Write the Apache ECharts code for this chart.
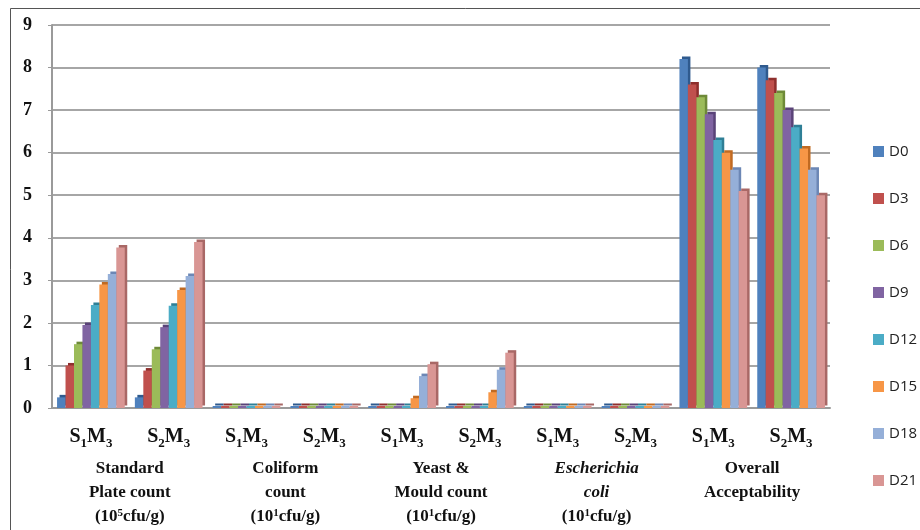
<!DOCTYPE html>
<html>
<head>
<meta charset="utf-8">
<script src="https://cdn.jsdelivr.net/npm/echarts@6/dist/echarts.min.js"></script>
<style>
  html, body { margin: 0; padding: 0; background: #fff; }
  #chart { width: 920px; height: 530px; }
</style>
</head>
<body>
<div id="chart"></div>
<script>
// Treatment codes along the x axis (S = sample, M = method; digits are subscripts)
const categories = ['S1M3', 'S2M3', 'S1M3', 'S2M3', 'S1M3', 'S2M3', 'S1M3', 'S2M3', 'S1M3', 'S2M3'];

// Parameter groups, two treatments each
const groupNames = ['Standard Plate count', 'Coliform count', 'Yeast & Mould count', 'Escherichia coli', 'Overall Acceptability'];

// Storage days
const days = ['D0', 'D3', 'D6', 'D9', 'D12', 'D15', 'D18', 'D21'];

// Values per storage day, one per treatment column
const d0  = [0.25, 0.25, 0, 0, 0,    0,    0, 0, 8.2, 8.0];
const d3  = [1.0,  0.88, 0, 0, 0,    0,    0, 0, 7.6, 7.7];
const d6  = [1.5,  1.38, 0, 0, 0,    0,    0, 0, 7.3, 7.4];
const d9  = [1.95, 1.9,  0, 0, 0,    0,    0, 0, 6.9, 7.0];
const d12 = [2.42, 2.4,  0, 0, 0,    0,    0, 0, 6.3, 6.6];
const d15 = [2.9,  2.77, 0, 0, 0.23, 0.37, 0, 0, 6.0, 6.1];
const d18 = [3.15, 3.1,  0, 0, 0.75, 0.9,  0, 0, 5.6, 5.6];
const d21 = [3.77, 3.9,  0, 0, 1.03, 1.3,  0, 0, 5.1, 5.0];
const seriesValues = [d0, d3, d6, d9, d12, d15, d18, d21];

// Y axis ticks
const yTicks = [0, 1, 2, 3, 4, 5, 6, 7, 8, 9];

const colors = ['#4F81BD', '#C0504D', '#9BBB59', '#8064A2', '#4BACC6', '#F79646', '#95AFD8', '#D99694'];
const sideColors = ['#2F5A8E', '#8E2F2D', '#6E8A38', '#5A4378', '#2F7F96', '#C06A22', '#6C87B5', '#A96866'];

const serif = '"Liberation Serif", "Times New Roman", serif';

function codeLabel(code) {
  // 'S1M3' -> S with subscript 1, M with subscript 3
  return '{b|S}{s|' + code[1] + '}{b|M}{s|' + code[3] + '}';
}

function groupLabel(name) {
  switch (name) {
    case 'Standard Plate count':
      return '{g|Standard}\n{g|Plate count}\n{g|(10}{sup|5}{g|cfu/g)}';
    case 'Coliform count':
      return '{g|Coliform}\n{g|count}\n{g|(10}{sup|1}{g|cfu/g)}';
    case 'Yeast & Mould count':
      return '{g|Yeast &}\n{g|Mould count}\n{g|(10}{sup|1}{g|cfu/g)}';
    case 'Escherichia coli':
      return '{i|Escherichia}\n{i|coli}\n{g|(10}{sup|1}{g|cfu/g)}';
    default:
      return '{g|Overall}\n{g|Acceptability}';
  }
}

const chart = echarts.init(document.getElementById('chart'), null, { renderer: 'canvas' });

const option = {
  animation: false,
  backgroundColor: '#fff',
  graphic: [{
    type: 'rect',
    shape: { x: 10.5, y: 8.5, width: 920, height: 540 },
    style: { fill: 'none', stroke: '#555', lineWidth: 1 },
    silent: true,
    z: -1
  }],
  grid: { left: 52, right: 90, top: 25, bottom: 122 },
  legend: {
    orient: 'vertical',
    left: 868,
    top: 139,
    itemWidth: 11,
    itemHeight: 11,
    itemGap: 32,
    icon: 'rect',
    data: days,
    textStyle: { fontFamily: '"Open Sans", "Liberation Sans", sans-serif', fontSize: 15, color: '#222', padding: [0, 0, 0, 0] }
  },
  xAxis: [{
    type: 'category',
    data: categories,
    position: 'bottom',
    axisLine: { lineStyle: { color: '#9a9a9a', width: 2 } },
    axisTick: { show: false },
    axisLabel: {
      margin: 19,
      interval: 0,
      formatter: codeLabel,
      rich: {
        b: { fontFamily: serif, fontWeight: 'bold', fontSize: 20, lineHeight: 20, color: '#111', verticalAlign: 'top' },
        s: { fontFamily: serif, fontWeight: 'bold', fontSize: 13, lineHeight: 13, color: '#111', verticalAlign: 'top', padding: [10, 0, 0, 0] }
      }
    }
  }, {
    type: 'category',
    data: groupNames,
    position: 'bottom',
    axisLine: { show: false },
    axisTick: { show: false },
    axisLabel: {
      margin: 52,
      interval: 0,
      formatter: groupLabel,
      rich: {
        g: { fontFamily: serif, fontWeight: 'bold', fontSize: 17, lineHeight: 24, color: '#111', verticalAlign: 'top' },
        i: { fontFamily: serif, fontWeight: 'bold', fontStyle: 'italic', fontSize: 17, lineHeight: 24, color: '#111', verticalAlign: 'top' },
        sup: { fontFamily: serif, fontWeight: 'bold', fontSize: 11, lineHeight: 24, color: '#111', verticalAlign: 'top', padding: [0, 0, 8, 0] }
      }
    }
  }],
  yAxis: {
    type: 'value',
    min: yTicks[0],
    max: yTicks[yTicks.length - 1],
    interval: 1,
    axisLine: { show: true, lineStyle: { color: '#9a9a9a', width: 2 } },
    axisTick: { show: true, length: 4, lineStyle: { color: '#9a9a9a' } },
    splitLine: { lineStyle: { color: '#888', width: 1.5 } },
    axisLabel: {
      margin: 20,
      fontFamily: serif,
      fontWeight: 'bold',
      fontSize: 18,
      color: '#111'
    }
  },
  series: days.map((name, i) => ({
    name: name,
    type: 'bar',
    data: seriesValues[i],
    barGap: '0%',
    barCategoryGap: '13%',
    barMinHeight: 2,
    itemStyle: {
      color: colors[i],
      shadowColor: sideColors[i],
      shadowOffsetX: 2.5,
      shadowOffsetY: -2.5,
      shadowBlur: 0
    }
  }))
};

chart.setOption(option);
</script>
</body>
</html>
